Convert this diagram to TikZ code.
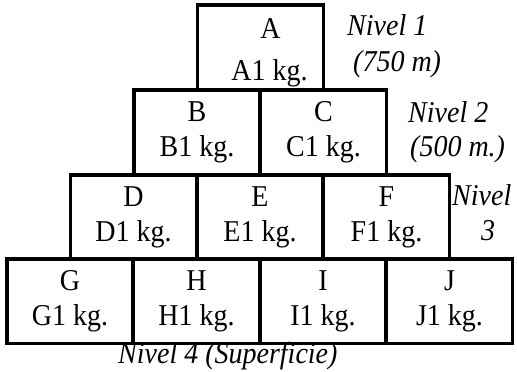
\documentclass[tikz,border=0pt]{standalone}
\usepackage{graphicx}
\usepackage{fontspec}
\setmainfont{Liberation Serif}
\newcommand{\tallT}[1]{\scalebox{1}[1.08]{#1}}
\begin{document}
\begin{tikzpicture}[x=1pt,y=-1pt,
  box/.style={draw, line width=3.8pt, minimum width=126pt, minimum height=84.5pt, inner sep=0pt, outer sep=0pt, anchor=north west},
  lbl/.style={anchor=base, font=\fontsize{28}{34}\selectfont, inner sep=0pt},
  lvl/.style={anchor=base west, font=\fontsize{28}{34}\selectfont\itshape, inner sep=0pt}]
\useasboundingbox (0,0) rectangle (517,372);
% row 1
\node[box] (bA) at (197.5,5) {};
% row 2
\node[box] (bB) at (134,90) {};
\node[box] (bC) at (260.5,90) {};
% row 3
\node[box] (bD) at (70.5,175) {};
\node[box] (bE) at (197,175) {};
\node[box] (bF) at (323.5,175) {};
% row 4
\node[box] (bG) at (7,259) {};
\node[box] (bH) at (133.5,259) {};
\node[box] (bI) at (260,259) {};
\node[box] (bJ) at (386.5,259) {};
% texts
\node[lbl] (tA) at ([xshift=10pt,yshift=-33pt]bA.north) {\tallT{A}};
\node[lbl] (tA1) at ([xshift=9pt,yshift=-75pt]bA.north) {\tallT{A1 kg.}};
\foreach \n in {B,C,D,E,F,G,H,I,J}{
  \node[lbl] (t\n) at ([yshift=-31.5pt]b\n.north) {\tallT{\n}};
  \node[lbl] (t\n1) at ([yshift=-66.5pt]b\n.north) {\tallT{\n1 kg.}};
}
% level labels
\node[lvl] (n1a) at (347,35) {\tallT{Nivel 1}};
\node[lvl] (n1b) at (353,71) {\tallT{(750 m)}};
\node[lvl] (n2a) at (408,122) {\tallT{Nivel 2}};
\node[lvl] (n2b) at (410,156) {\tallT{(500 m.)}};
\node[lvl] (n3a) at (452,205) {\tallT{Nivel}};
\node[lvl, anchor=base] (n3b) at (488,240) {\tallT{3}};
\node[lvl] (n4) at (118,363) {\tallT{Nivel 4 (Superficie)}};
\end{tikzpicture}
\end{document}
